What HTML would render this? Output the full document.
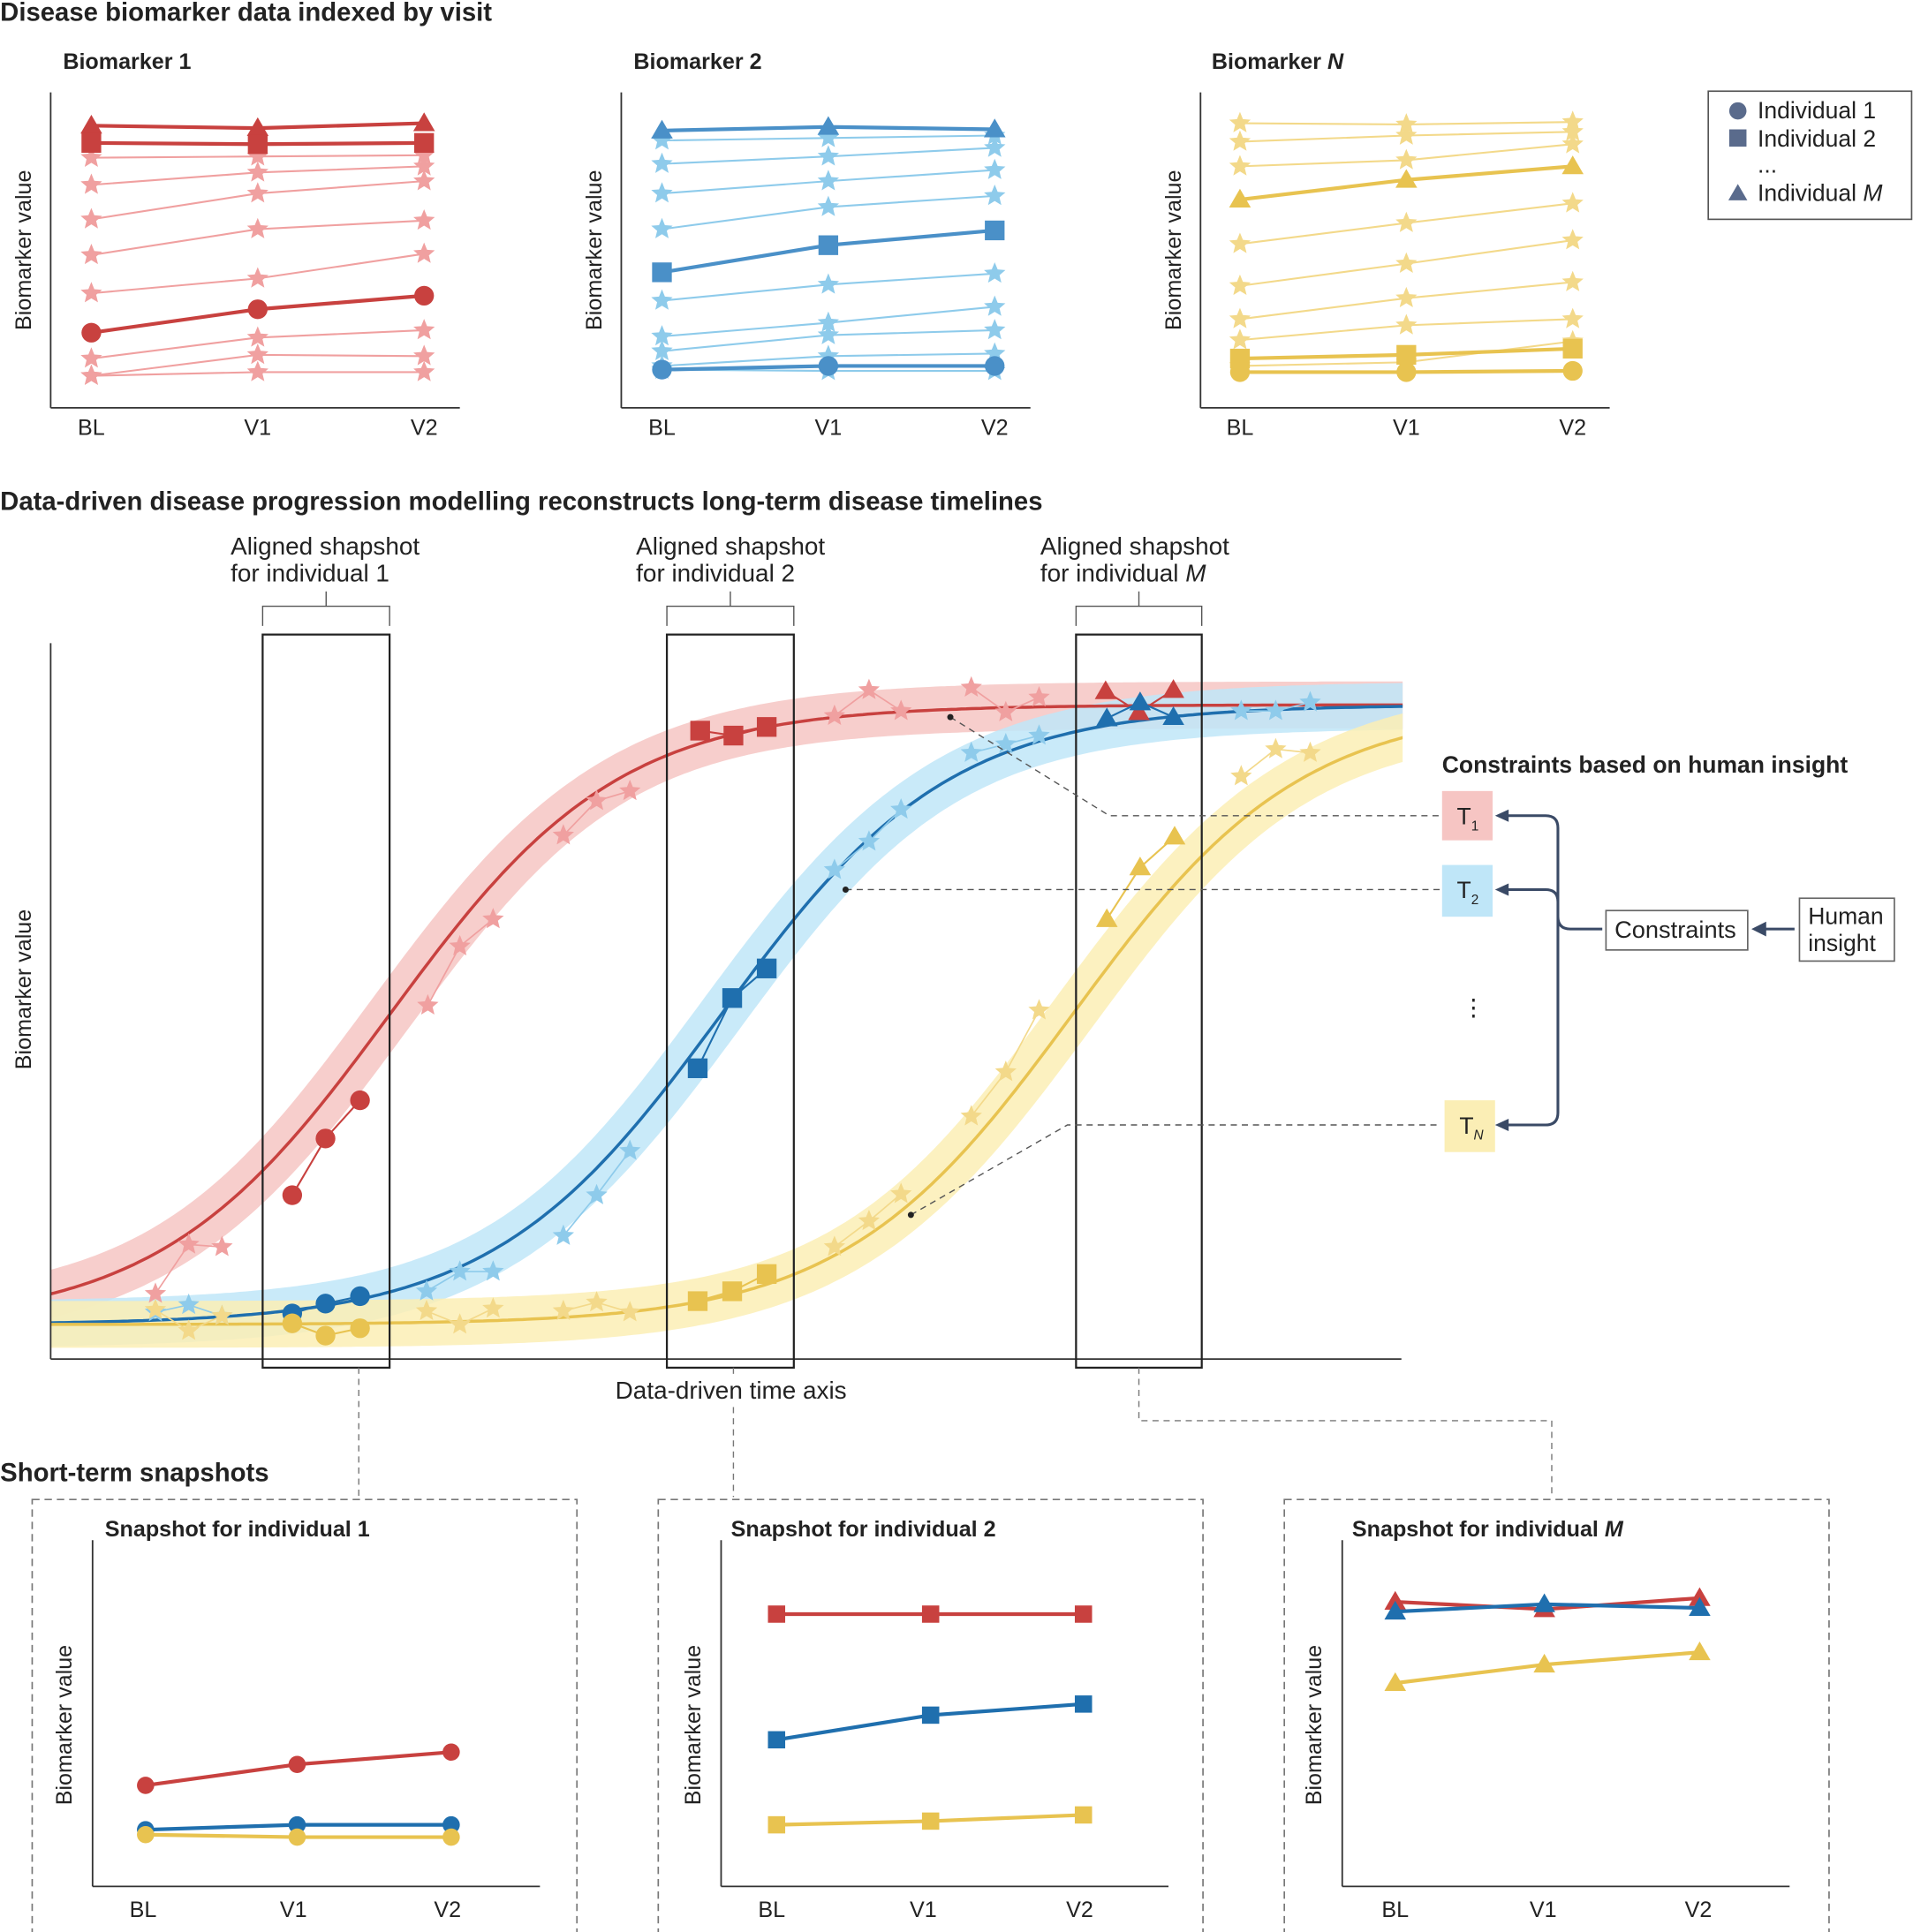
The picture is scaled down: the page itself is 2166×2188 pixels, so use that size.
<!DOCTYPE html>
<html><head><meta charset="utf-8"><style>
html,body{margin:0;padding:0;background:#fff;}
svg{display:block;font-family:"Liberation Sans",sans-serif;}
</style></head><body>
<svg id="s" xmlns="http://www.w3.org/2000/svg" width="2166" height="2188" viewBox="0 0 1552 1568">
<defs><clipPath id="cp"><rect x="41" y="500" width="1097" height="603"/></clipPath></defs>
<rect width="1552" height="1568" fill="#fff"/>
<g id="bg" clip-path="url(#cp)"></g>
<g id="fg"></g>
<g font-size="21" font-weight="bold" fill="#222">
<text x="0" y="17">Disease biomarker data indexed by visit</text>
<text x="0" y="414">Data-driven disease progression modelling reconstructs long-term disease timelines</text>
<text x="0" y="1202">Short-term snapshots</text>
<text x="1170" y="627" font-size="19">Constraints based on human insight</text>
</g>
<g font-size="18" font-weight="bold" fill="#222">
<text x="51" y="56">Biomarker 1</text>
<text x="514" y="56">Biomarker 2</text>
<text x="983" y="56">Biomarker <tspan font-style="italic">N</tspan></text>
<text x="85" y="1247">Snapshot for individual 1</text>
<text x="593" y="1247">Snapshot for individual 2</text>
<text x="1097" y="1247">Snapshot for individual <tspan font-style="italic">M</tspan></text>
</g>
<g font-size="18" fill="#222" text-anchor="middle">
<text x="74" y="353">BL</text><text x="209" y="353">V1</text><text x="344" y="353">V2</text>
<text x="537" y="353">BL</text><text x="672" y="353">V1</text><text x="807" y="353">V2</text>
<text x="1006" y="353">BL</text><text x="1141" y="353">V1</text><text x="1276" y="353">V2</text>
<text x="116" y="1556">BL</text><text x="238" y="1556">V1</text><text x="363" y="1556">V2</text>
<text x="626" y="1556">BL</text><text x="749" y="1556">V1</text><text x="876" y="1556">V2</text>
<text x="1132" y="1556">BL</text><text x="1252" y="1556">V1</text><text x="1378" y="1556">V2</text>
<text x="593" y="1135" font-size="20">Data-driven time axis</text>
<text transform="translate(25,203) rotate(-90)">Biomarker value</text>
<text transform="translate(488,203) rotate(-90)">Biomarker value</text>
<text transform="translate(958,203) rotate(-90)">Biomarker value</text>
<text transform="translate(25,803) rotate(-90)">Biomarker value</text>
<text transform="translate(58,1400) rotate(-90)">Biomarker value</text>
<text transform="translate(568,1400) rotate(-90)">Biomarker value</text>
<text transform="translate(1072,1400) rotate(-90)">Biomarker value</text>
</g>
<g font-size="20" fill="#222">
<text x="187" y="450">Aligned shapshot</text><text x="187" y="472">for individual 1</text>
<text x="516" y="450">Aligned shapshot</text><text x="516" y="472">for individual 2</text>
<text x="844" y="450">Aligned shapshot</text><text x="844" y="472">for individual <tspan font-style="italic">M</tspan></text>
</g>
<g font-size="19" fill="#222">
<text x="1426" y="96">Individual 1</text>
<text x="1426" y="119">Individual 2</text>
<text x="1426" y="140">...</text>
<text x="1426" y="163">Individual <tspan font-style="italic">M</tspan></text>
<text x="1310" y="761" font-size="19.5">Constraints</text>
<text x="1467" y="750">Human</text><text x="1467" y="772">insight</text>
<text x="1182" y="669">T<tspan font-size="11" dy="5">1</tspan></text>
<text x="1182" y="729">T<tspan font-size="11" dy="5">2</tspan></text>
<text x="1184" y="920">T<tspan font-size="11" dy="5" font-style="italic">N</tspan></text>
<text x="1186" y="824">⋮</text>
</g>
</svg>
<script>
const bg=document.getElementById('bg'),fg=document.getElementById('fg');
let B='',F='';
const R='#c8413f',BL='#1f6fae',BT='#4a90c8',Y='#e8c350',LR='#f0a0a0',LB='#8ecbeb',LY='#f3d98a';
function line(x1,y1,x2,y2,c,w,d){return `<line x1="${x1}" y1="${y1}" x2="${x2}" y2="${y2}" stroke="${c}" stroke-width="${w}" ${d?'stroke-dasharray="'+d+'"':''}/>`;}
function star(x,y,r,c){let p=[];for(let i=0;i<10;i++){let a=-Math.PI/2+i*Math.PI/5,rr=i%2?r*0.45:r;p.push((x+rr*Math.cos(a)).toFixed(1)+','+(y+rr*Math.sin(a)).toFixed(1));}return `<polygon points="${p.join(' ')}" fill="${c}"/>`;}
function mk(t,x,y,c,s){s=s||8;if(t=='c')return `<circle cx="${x}" cy="${y}" r="${s}" fill="${c}"/>`;if(t=='s')return `<rect x="${x-s}" y="${y-s}" width="${2*s}" height="${2*s}" fill="${c}"/>`;if(t=='t')return `<polygon points="${x},${y-s*1.1} ${x+s*1.1},${y+s*0.8} ${x-s*1.1},${y+s*0.8}" fill="${c}"/>`;return star(x,y,s*1.15,c);}
function series(xs,ys,t,c,w,s){let o=`<polyline points="${xs.map((x,i)=>x+','+ys[i]).join(' ')}" fill="none" stroke="${c}" stroke-width="${w}"/>`;xs.forEach((x,i)=>o+=mk(t,x,ys[i],c,s));return o;}
function topPanel(ax,xs,stars,bold,lc,c){
 F+=line(ax,75,ax,331,'#333',1.3)+line(ax,331,ax+332,331,'#333',1.3);
 stars.forEach(v=>F+=series(xs,v,'*',lc,1.5,8));
 bold.forEach(b=>F+=series(xs,b[1],b[0],c,3,8));
}
topPanel(41,[74,209,344],[[128,127,126],[150,140,135],[178,157,147],[207,186,179],[238,226,206],[291,274,268],[305,288,289],[305,302,302]],[['t',[102,104,100]],['s',[116,117,116]],['c',[270,251,240]]],LR,R);
topPanel(504,[537,672,807],[[114,112,110],[133,127,120],[157,147,138],[186,168,159],[244,231,222],[273,262,249],[285,272,268],[297,289,287],[300,301,301]],[['t',[106,103,105]],['s',[221,199,187]],['c',[300,297,297]]],LB,BT);
topPanel(974,[1006,1141,1276],[[100,101,99],[115,110,107],[135,130,117],[198,181,165],[232,214,195],[259,242,229],[276,264,259],[297,294,277]],[['t',[162,146,135]],['s',[291,288,283]],['c',[302,302,301]]],LY,Y);
F+=`<rect x="1386" y="74" width="165" height="104" fill="none" stroke="#555" stroke-width="1.2"/>`;
F+=mk('c',1410,90,'#5a6b8c',7)+mk('s',1410,112,'#5a6b8c',7)+mk('t',1410,157,'#5a6b8c',7);
function sig(c){let p=[];for(let x=0;x<=1180;x+=4){p.push(x+','+(1075-503/(1+Math.exp(-(x-c)/93))).toFixed(1));}return p.join(' ');}
[[316,'#f6c5c3',R],[585,'#bfe6f8',BL],[870,'#fbeeb5',Y]].forEach(a=>{B+=`<polyline points="${sig(a[0])}" fill="none" stroke="${a[1]}" stroke-width="38" opacity="0.85"/>`;});
F+=`<g clip-path="url(#cp)">`;
[[316,R],[585,BL],[870,Y]].forEach(a=>{F+=`<polyline points="${sig(a[0])}" fill="none" stroke="${a[1]}" stroke-width="2.5"/>`;});
F+=`</g>`;
F+=line(41,522,41,1103,'#333',1.3)+line(41,1103,1137,1103,'#333',1.3);
function pts(arr,t,c,w,s){let o='';for(let i=0;i<arr.length;i+=3){let g=arr.slice(i,i+3);o+=series(g.map(p=>p[0]),g.map(p=>p[1]),t,c,w,s);}return o;}
F+=pts([[126,1050],[153,1010],[180,1012],[347,816],[373,768],[400,746],[457,678],[484,650],[511,642],[677,581],[705,560],[731,577],[788,558],[816,578],[843,566]],'*',LR,1.2,8);
F+=pts([[126,1065],[153,1059],[180,1068],[346,1048],[373,1032],[400,1032],[457,1003],[484,970],[511,934],[677,706],[705,683],[731,657],[788,611],[816,604],[843,597],[1007,577],[1035,577],[1063,570]],'*',LB,1.2,8);
F+=pts([[126,1063],[153,1080],[180,1068],[346,1064],[373,1075],[400,1062],[457,1064],[484,1057],[511,1065],[677,1012],[705,991],[731,969],[788,906],[816,870],[843,820],[1007,630],[1035,608],[1063,611]],'*',LY,1.2,8);
F+=pts([[237,970],[264,924],[292,893]],'c',R,1.5,8)+pts([[568,593],[595,597],[622,590]],'s',R,1.5,8)+pts([[897,561],[924,578],[952,560]],'t',R,1.5,8);
F+=pts([[237,1066],[264,1058],[292,1052]],'c',BL,1.5,8)+pts([[566,867],[594,810],[622,786]],'s',BL,1.5,8)+pts([[898,583],[925,570],[952,582]],'t',BL,1.5,8);
F+=pts([[237,1074],[264,1084],[292,1078]],'c',Y,1.5,8)+pts([[566,1056],[594,1048],[622,1034]],'s',Y,1.5,8)+pts([[898,746],[925,704],[953,679]],'t',Y,1.5,8);
[[213,316],[541,644],[873,975]].forEach(b=>{F+=`<rect x="${b[0]}" y="515" width="${b[1]-b[0]}" height="595" fill="none" stroke="#222" stroke-width="1.6"/>`;let m=(b[0]+b[1])/2;F+=`<polyline points="${b[0]},508 ${b[0]},492 ${b[1]},492 ${b[1]},508" fill="none" stroke="#555" stroke-width="1"/>`+line(m,480,m,492,'#555',1);});
F+=`<polyline points="771,582 900,662 1168,662" fill="none" stroke="#555" stroke-width="1" stroke-dasharray="5,4"/><circle cx="771" cy="582" r="2.5" fill="#222"/>`;
F+=line(686,722,1168,722,'#555',1,'5,4')+`<circle cx="686" cy="722" r="2.5" fill="#222"/>`;
F+=`<polyline points="739,986 866,913 1168,913" fill="none" stroke="#555" stroke-width="1" stroke-dasharray="5,4"/><circle cx="739" cy="986" r="2.5" fill="#222"/>`;
F+=`<rect x="1170" y="642" width="41" height="40" fill="#f6c5c3"/><rect x="1170" y="702" width="41" height="42" fill="#bfe6f8"/><rect x="1172" y="893" width="41" height="42" fill="#fbeeb5"/>`;
const D='#3a4a66';
F+=`<path d="M1216,662 H1254 Q1264,662 1264,672 V903 Q1264,913 1254,913 H1216 M1216,722 H1254 Q1264,722 1264,732 M1264,744 Q1264,754 1274,754 H1300" fill="none" stroke="${D}" stroke-width="2.2"/>`;
[662,722,913].forEach(y=>F+=`<polygon points="1213,${y} 1224,${y-5} 1224,${y+5}" fill="${D}"/>`);
F+=`<rect x="1303" y="739" width="115" height="32" fill="#fff" stroke="#666" stroke-width="1.2"/><rect x="1460" y="729" width="77" height="51" fill="#fff" stroke="#666" stroke-width="1.2"/>`;
F+=line(1432,754,1456,754,D,2.2)+`<polygon points="1421,754 1433,748 1433,760" fill="${D}"/>`;
F+=line(291,1110,291,1215,'#777',1,'5,4')+line(595,1110,595,1118,'#777',1,'5,4')+line(595,1142,595,1215,'#777',1,'5,4');
F+=`<polyline points="924,1110 924,1153 1259,1153 1259,1215" fill="none" stroke="#777" stroke-width="1" stroke-dasharray="5,4"/>`;
[26,534,1042].forEach(x=>F+=`<rect x="${x}" y="1217" width="442" height="360" fill="none" stroke="#777" stroke-width="1.2" stroke-dasharray="6,4"/>`);
[75,585,1089].forEach(x=>F+=line(x,1250,x,1531,'#333',1.3)+line(x,1531,x+363,1531,'#333',1.3));
F+=series([118,241,366],[1449,1432,1422],'c',R,3,7)+series([118,241,366],[1485,1481,1481],'c',BL,3,7)+series([118,241,366],[1489,1491,1491],'c',Y,3,7);
F+=series([630,755,879],[1310,1310,1310],'s',R,3,7)+series([630,755,879],[1412,1392,1383],'s',BL,3,7)+series([630,755,879],[1481,1478,1473],'s',Y,3,7);
F+=series([1132,1253,1379],[1300,1306,1297],'t',R,3,8)+series([1132,1253,1379],[1308,1302,1305],'t',BL,3,8)+series([1132,1253,1379],[1366,1351,1341],'t',Y,3,8);
bg.innerHTML=B;fg.innerHTML=F;
</script>
</body></html>
